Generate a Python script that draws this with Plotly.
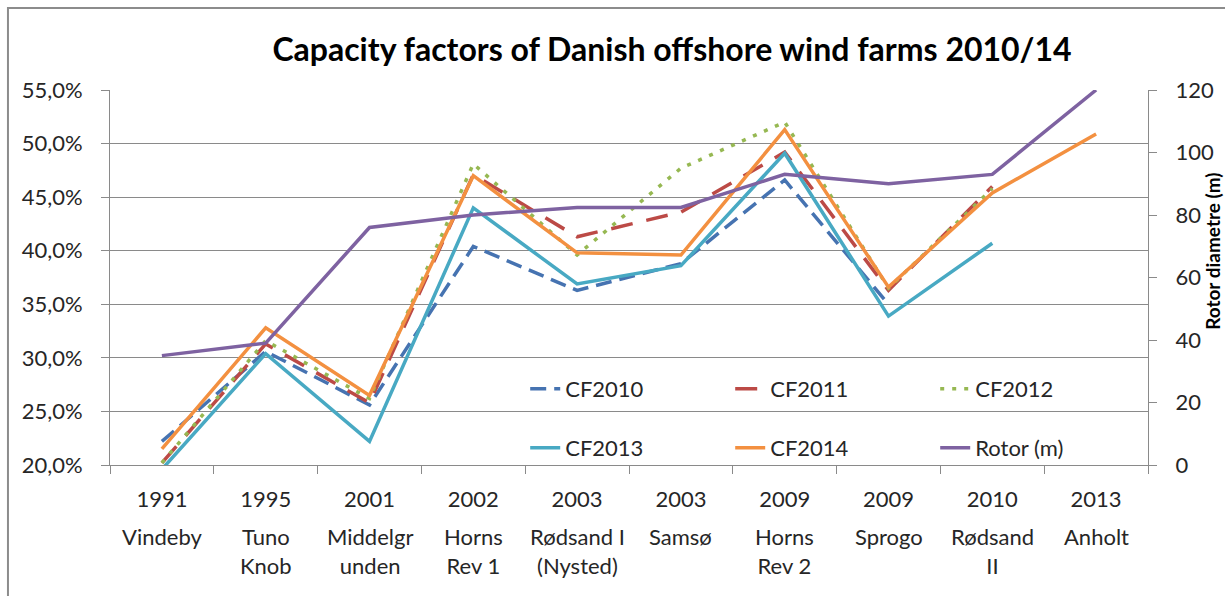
import plotly.graph_objects as go

# Offshore wind farms (commissioning year + name)
years = ["1991", "1995", "2001", "2002", "2003", "2003", "2009", "2009", "2010", "2013"]
farms = ["Vindeby", "Tuno<br>Knob", "Middelgr<br>unden", "Horns<br>Rev 1", "Rødsand I<br>(Nysted)",
         "Samsø", "Horns<br>Rev 2", "Sprogo", "Rødsand<br>II", "Anholt"]

# Capacity factors (fractions) per year, None where no data
cf2010 = [0.222, 0.306, 0.256, 0.404, 0.363, 0.388, 0.466, 0.350, None, None]
cf2011 = [0.202, 0.313, 0.258, 0.471, 0.413, 0.436, 0.492, 0.363, 0.460, None]
cf2012 = [0.202, 0.316, 0.262, 0.481, 0.396, 0.477, 0.520, 0.365, 0.458, None]
cf2013 = [0.196, 0.304, 0.222, 0.440, 0.369, 0.386, 0.491, 0.339, 0.407, None]
cf2014 = [0.215, 0.328, 0.265, 0.470, 0.398, 0.396, 0.513, 0.366, 0.454, 0.509]

# Rotor diameter in metres (secondary axis)
rotor = [35, 39, 76, 80, 82.4, 82.4, 93, 90, 93, 120]

FONT = "Lato"
TXT = "#262626"
GRID = "#8a8a8a"

fig = go.Figure()

series = [
    ("CF2010", cf2010, "#4673B1", "16px,8px", "legend"),
    ("CF2011", cf2011, "#BC4A46", "22px,14px", "legend"),
    ("CF2012", cf2012, "#96B852", "4px,8px", "legend"),
    ("CF2013", cf2013, "#48A9C3", "solid", "legend2"),
    ("CF2014", cf2014, "#F39040", "solid", "legend2"),
]
for name, vals, color, dash, leg in series:
    fig.add_trace(go.Scatter(
        x=farms, y=vals, name=name, mode="lines", legend=leg,
        line=dict(color=color, width=3.5, dash=dash),
        connectgaps=False,
    ))

fig.add_trace(go.Scatter(
    x=farms, y=rotor, name="Rotor (m)", mode="lines", legend="legend2",
    yaxis="y2", line=dict(color="#7E62A1", width=3.5),
))

# Farm names under the year tick labels
for f in farms:
    fig.add_annotation(
        x=f, xref="x", y=-0.15, yref="paper", text=f, showarrow=False,
        yanchor="top", xanchor="center", align="center",
        font=dict(family=FONT, size=22, color=TXT),
    )

# Secondary axis title
fig.add_annotation(
    x=1.0626, xref="paper", y=0.571, yref="paper", text="<b>Rotor diametre (m)</b>",
    textangle=-90, showarrow=False, xanchor="center", yanchor="middle",
    font=dict(family=FONT, size=19, color="#000000"),
)

# Chart-area border
fig.add_shape(
    type="rect", xref="paper", yref="paper",
    x0=-0.0983, y0=-0.37, x1=1.09, y1=1.2187,
    line=dict(color="#8c8c8c", width=2), fillcolor="rgba(0,0,0,0)", layer="below",
)

legend_common = dict(
    orientation="h", xanchor="left", yanchor="middle",
    bgcolor="rgba(0,0,0,0)", borderwidth=0,
    font=dict(family=FONT, size=22, color=TXT),
    entrywidth=160, entrywidthmode="pixels",
)

fig.update_layout(
    width=1225, height=596,
    margin=dict(l=110, r=77, t=90, b=131),
    paper_bgcolor="white", plot_bgcolor="white",
    separators=",.",
    font=dict(family=FONT, size=22, color=TXT),
    title=dict(
        text="<b>Capacity factors of Danish offshore wind farms 2010/14</b>",
        x=0.5486, xref="container", xanchor="center",
        y=0.916, yref="container", yanchor="middle",
        font=dict(family=FONT, size=32, color="#000000"),
    ),
    xaxis=dict(
        type="category", range=[-0.5, 9.5],
        tickvals=farms, ticktext=years,
        tickson="boundaries", ticks="outside", ticklen=8, tickcolor=GRID,
        showline=True, linecolor=GRID, linewidth=1, showgrid=False,
        ticklabelstandoff=15,
        tickfont=dict(family=FONT, size=22, color=TXT),
    ),
    yaxis=dict(
        range=[0.20, 0.55], dtick=0.05, tickformat=".1%",
        showgrid=True, gridcolor=GRID, gridwidth=1,
        showline=True, linecolor=GRID, linewidth=1,
        ticks="outside", ticklen=8, tickcolor=GRID,
        ticklabelstandoff=14, zeroline=False,
        tickfont=dict(family=FONT, size=22, color=TXT),
    ),
    yaxis2=dict(
        overlaying="y", side="right", range=[0, 120], dtick=20,
        showgrid=False, showline=True, linecolor=GRID, linewidth=1,
        ticks="outside", ticklen=8, tickcolor=GRID,
        ticklabelstandoff=14, zeroline=False,
        tickfont=dict(family=FONT, size=22, color=TXT),
    ),
    legend=dict(x=0.40, y=0.2027, **legend_common),
    legend2=dict(x=0.40, y=0.0453, **legend_common),
    showlegend=True,
)

fig.write_html("out.html")
